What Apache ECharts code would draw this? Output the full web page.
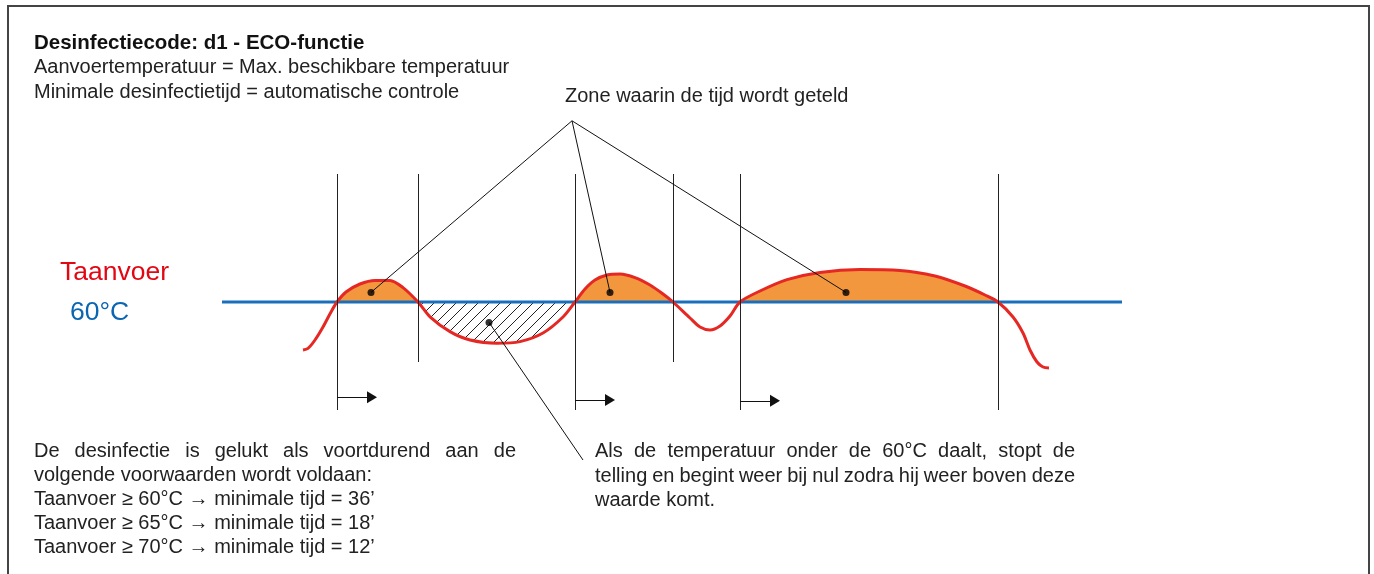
<!DOCTYPE html>
<html>
<head>
<meta charset="utf-8">
<script src="https://cdn.jsdelivr.net/npm/echarts@6/dist/echarts.min.js"></script>
<style>
html, body { margin: 0; padding: 0; background: #fff; }
#chart { width: 1374px; height: 574px; }
</style>
</head>
<body>
<div id="chart"></div>
<script>
// Supply temperature curve (time in arbitrary units, temperature in °C)
const curveTime = [8.1, 8.6, 9.3, 10.1, 10.9, 11.5, 12.4, 13.8, 15.3, 16.8, 18.1, 19.6, 20.8, 22.8, 24.8, 27.5, 29.8, 32.1, 34.1, 35.3,
    36.3, 37.3, 38.5, 39.8, 41.3, 42.8, 44.1, 45.1, 46.8, 47.8, 48.8, 49.8, 50.8, 51.8,
    53.8, 56.5, 59.8, 63.8, 67.8, 71.3, 74.3, 76.3, 77.6, 79.1, 80.1, 80.8, 81.5, 82.1, 82.7];
const curveTemp = [48.0, 48.4, 50.5, 53.75, 57.5, 60, 62.5, 64.5, 65.4, 65.4, 63.6, 60, 56.3, 52.6, 50.5, 49.7, 50.1, 52.25, 56.25, 60,
    63.25, 65.5, 66.75, 67.0, 66.1, 64.25, 62.0, 60, 56.0, 53.75, 53.0, 54.0, 56.5, 60,
    62.75, 65.6, 67.4, 68.1, 67.9, 66.5, 64.0, 61.75, 60, 56.25, 52.25, 48.0, 45.0, 43.75, 43.5];

// 60°C reference line
const threshold = 60;
const refLineTime = [0, 90];

// zones between crossings of the 60°C line
const zoneStart = [11.5, 19.6, 35.3, 51.8];
const zoneEnd = [19.6, 35.3, 45.1, 77.6];
const zoneKind = ['count', 'reset', 'count', 'count'];

// vertical markers (crossings) and how far down they reach
const markerTime = [11.5, 19.6, 35.3, 45.1, 51.8, 77.6];
const markerTop = [92, 92, 92, 92, 92, 92];
const markerLow = [33, 45, 33, 45, 33, 33];

// counting arrows
const arrowTime = [11.5, 35.3, 51.8];
const arrowTemp = [36.2, 35.5, 35.3];
const arrowLength = 3.5;

// callout dots and lines
const calloutApex = [35, 105.3];
const dotTime = [14.9, 38.8, 62.4, 26.7];
const dotTemp = [62.4, 62.4, 62.4, 54.9];
const resetCalloutEnd = [36.1, 20.5];

// texts
const titleLines = ['Desinfectiecode: d1 - ECO-functie', 'Aanvoertemperatuur = Max. beschikbare temperatuur', 'Minimale desinfectietijd = automatische controle'];
const zoneLabel = 'Zone waarin de tijd wordt geteld';
const leftNote = ['De desinfectie is gelukt als voortdurend aan de', 'volgende voorwaarden wordt voldaan:', 'Taanvoer \u2265 60°C \u2192 minimale tijd = 36\u2019', 'Taanvoer \u2265 65°C \u2192 minimale tijd = 18\u2019', 'Taanvoer \u2265 70°C \u2192 minimale tijd = 12\u2019'];
const rightNote = ['Als de temperatuur onder de 60°C daalt, stopt de', 'telling en begint weer bij nul zodra hij weer boven deze', 'waarde komt.'];

const W = 1374, H = 574;
const xMin = -22.2, xMax = 115.2, yMin = -8, yMax = 135.5;
const toPx = t => (t - xMin) * W / (xMax - xMin);
const FONT = "'Liberation Sans', Arial, sans-serif";
const SMOOTH = 0.3;
const BODY = 20;

const curve = curveTime.map((t, i) => [t, curveTemp[i]]);

// hatch for the part below 60°C
function hatchPattern() {
    const c = document.createElement('canvas');
    c.width = 11; c.height = 11;
    const g = c.getContext('2d');
    g.strokeStyle = '#222';
    g.lineWidth = 1;
    g.beginPath();
    g.moveTo(0, 11); g.lineTo(11, 0);
    g.moveTo(-1, 1); g.lineTo(1, -1);
    g.moveTo(10, 12); g.lineTo(12, 10);
    g.stroke();
    return c;
}
const hatch = hatchPattern();

// one full grid + one clipped grid per zone (same scale, so fills follow the curve exactly)
const grids = [{ left: 0, top: 0, width: W, height: H }];
const xAxes = [{ min: xMin, max: xMax }];
zoneStart.forEach((s, i) => {
    grids.push({ left: toPx(s), top: 0, width: toPx(zoneEnd[i]) - toPx(s), height: H });
    xAxes.push({ min: s, max: zoneEnd[i] });
});
const axisBase = { type: 'value', show: false, splitLine: { show: false } };

const fillSeries = zoneStart.map((s, i) => ({
    type: 'line',
    xAxisIndex: i + 1,
    yAxisIndex: i + 1,
    data: curve,
    smooth: SMOOTH,
    symbol: 'none',
    silent: true,
    z: 1,
    lineStyle: { width: 0.001, opacity: 0 },
    areaStyle: {
        origin: threshold,
        opacity: 1,
        color: zoneKind[i] === 'count' ? '#f3973f' : { image: hatch, repeat: 'repeat' }
    }
}));

const markerLines = markerTime.map((t, i) => [
    { coord: [t, markerTop[i]] }, { coord: [t, markerLow[i]] }
]);
const arrowLines = arrowTime.map((t, i) => [
    { coord: [t, arrowTemp[i]], symbol: 'none' },
    { coord: [t + arrowLength, arrowTemp[i]], symbol: 'triangle', symbolSize: [12, 10] }
]);
const calloutLines = dotTime.slice(0, 3).map((t, i) => [
    { coord: calloutApex }, { coord: [t, dotTemp[i]] }
]);
calloutLines.push([{ coord: [dotTime[3], dotTemp[3]] }, { coord: resetCalloutEnd }]);

// text helpers
const measureCtx = document.createElement('canvas').getContext('2d');
function textEl(text, x, y, size, color, weight) {
    return {
        type: 'text', x, y, silent: true,
        style: {
            text, fill: color, fontSize: size, fontFamily: FONT, fontWeight: weight || 'normal',
            align: 'left', verticalAlign: 'middle', textAlign: 'left', textVerticalAlign: 'middle'
        }
    };
}
function justified(text, x0, x1, y, size, color) {
    measureCtx.font = size + 'px ' + FONT;
    const words = text.split(' ');
    const widths = words.map(w => measureCtx.measureText(w).width);
    const gap = (x1 - x0 - widths.reduce((a, b) => a + b, 0)) / (words.length - 1);
    let x = x0;
    return words.map((w, i) => {
        const el = textEl(w, x, y, size, color);
        x += widths[i] + gap;
        return el;
    });
}

const textColor = '#222';
const graphics = [
    { type: 'rect', silent: true, shape: { x: 8, y: 6, width: 1361, height: 600 }, style: { fill: 'none', stroke: '#444', lineWidth: 2 } },
    textEl(titleLines[0], 34, 43, 20.5, '#111', 'bold'),
    textEl(titleLines[1], 34, 67, BODY, textColor),
    textEl(titleLines[2], 34, 92, BODY, textColor),
    textEl(zoneLabel, 565, 96, BODY, textColor),
    textEl('Taanvoer', 60, 273, 26.5, '#e30613'),
    textEl('60°C', 70, 313, 26.5, '#0a66b2'),
    ...justified(leftNote[0], 34, 516, 451, BODY, textColor),
    textEl(leftNote[1], 34, 475, BODY, textColor),
    textEl(leftNote[2], 34, 499, BODY, textColor),
    textEl(leftNote[3], 34, 523, BODY, textColor),
    textEl(leftNote[4], 34, 547, BODY, textColor),
    ...justified(rightNote[0], 595, 1075, 451, BODY, textColor),
    ...justified(rightNote[1], 595, 1075, 476, BODY, textColor),
    textEl(rightNote[2], 595, 500, BODY, textColor)
];

const chart = echarts.init(document.getElementById('chart'));
chart.setOption({
    animation: false,
    backgroundColor: '#fff',
    grid: grids.map(g => Object.assign({ containLabel: false, outerBoundsMode: 'none' }, g)),
    xAxis: xAxes.map((a, i) => Object.assign({}, axisBase, a, { gridIndex: i })),
    yAxis: grids.map((g, i) => Object.assign({}, axisBase, { min: yMin, max: yMax, gridIndex: i })),
    series: [
        ...fillSeries,
        {
            type: 'line',
            data: refLineTime.map(t => [t, threshold]),
            symbol: 'none',
            silent: true,
            z: 3,
            lineStyle: { color: '#1a6fbb', width: 3 },
            markLine: {
                silent: true,
                symbol: 'none',
                label: { show: false },
                emphasis: { disabled: true },
                lineStyle: { color: '#222', width: 1, type: 'solid' },
                data: markerLines
            }
        },
        {
            type: 'line',
            data: curve,
            smooth: SMOOTH,
            symbol: 'none',
            silent: true,
            z: 4,
            lineStyle: { color: '#e52823', width: 3 }
        },
        {
            type: 'scatter',
            data: dotTime.map((t, i) => [t, dotTemp[i]]),
            symbolSize: 7,
            silent: true,
            z: 5,
            itemStyle: { color: '#000' },
            markLine: {
                silent: true,
                symbol: 'none',
                label: { show: false },
                emphasis: { disabled: true },
                lineStyle: { color: '#111', width: 1, type: 'solid' },
                data: [...calloutLines, ...arrowLines]
            }
        }
    ],
    graphic: { elements: graphics }
});
</script>
</body>
</html>
